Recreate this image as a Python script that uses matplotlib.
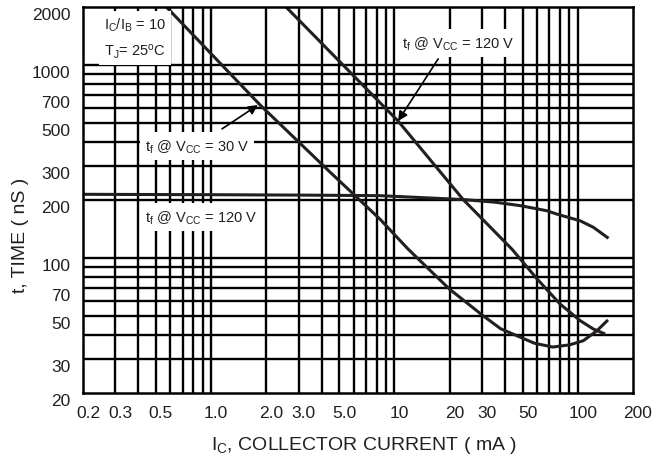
import matplotlib
matplotlib.use('Agg')
import matplotlib.pyplot as plt
import matplotlib.transforms as mtransforms
from matplotlib.ticker import FixedLocator, NullLocator

plt.rcParams['font.family'] = ['Liberation Sans', 'DejaVu Sans']
plt.rcParams['mathtext.fontset'] = 'custom'
plt.rcParams['mathtext.rm'] = 'Liberation Sans'
plt.rcParams['mathtext.it'] = 'Liberation Sans:italic'

INK = '#231f20'

# tick labels
x_ticks = [0.2, 0.3, 0.5, 1, 2, 3, 5, 10, 20, 30, 50, 100, 200]
x_tick_labels = ['0.2', '0.3', '0.5', '1.0', '2.0', '3.0', '5.0', '10', '20', '30', '50', '100', '200']
y_ticks = [20, 30, 50, 70, 100, 200, 300, 500, 700, 1000, 2000]
y_tick_labels = ['20', '30', '50', '70', '100', '200', '300', '500', '700', '1000', '2000']

# grid lines of the printed chart
x_grid = [0.3, 0.4, 0.5, 0.6, 0.7, 0.8, 0.9, 1, 2, 3, 4, 5, 6, 7, 8, 9,
          10, 20, 30, 40, 50, 60, 70, 80, 90, 100]
y_grid = [30, 40, 50, 60, 70, 80, 90, 100, 200, 300, 400, 500, 600, 700, 800, 900, 1000]

# tf @ VCC = 30 V
ic_30v = [0.57, 1.85, 4.45, 8.34, 11.9, 19.9, 30.4, 38, 46.5, 58, 73, 90, 107, 127, 146]
tf_30v = [2000, 621, 279, 159, 111, 69.2, 50.3, 43, 39.6, 36.2, 34.6, 35.5, 37.3, 42, 47.8]

# tf @ VCC = 120 V (steep curve)
ic_120v = [2.56, 10.46, 23.7, 43.8, 60, 80, 103, 121.5, 141]
tf_120v = [2000, 513, 201, 111, 77.9, 57.8, 47.4, 42.9, 40.4]

# tf @ VCC = 120 V (flat curve)
ic_120v_flat = [0.2, 1.0, 3.0, 8.34, 23.7, 35, 48.4, 67.6, 76.8, 103, 121.5, 147]
tf_120v_flat = [214, 213, 212, 210.6, 201, 195, 187, 176, 169, 156, 144.4, 126.6]


def draw_chart():
    fig = plt.figure(figsize=(6.52, 4.56), dpi=100)
    ax = fig.add_axes([0.1273, 0.136, 0.8436, 0.8465])
    ax.set_xscale('log')
    ax.set_yscale('log')
    ax.set_xlim(0.2, 200)
    ax.set_ylim(20, 2000)

    ax.xaxis.set_major_locator(FixedLocator(x_ticks))
    ax.xaxis.set_major_formatter(plt.FixedFormatter(x_tick_labels))
    ax.yaxis.set_major_locator(FixedLocator(y_ticks))
    ax.yaxis.set_major_formatter(plt.FixedFormatter(y_tick_labels))
    ax.xaxis.set_minor_locator(NullLocator())
    ax.yaxis.set_minor_locator(NullLocator())
    ax.tick_params(which='both', length=0, labelsize=12.5, colors=INK)
    ax.tick_params(axis='x', pad=9)
    ax.tick_params(axis='y', pad=9)

    # the printed grid, drawn under the curves
    ax.vlines(x_grid, 20, 2000, color='black', lw=1.7, zorder=1)
    ax.hlines(y_grid, 0.2, 200, color='black', lw=1.7, zorder=1)

    for s in ax.spines.values():
        s.set_linewidth(1.8)
        s.set_color('black')

    # nudge tick labels like the printed datasheet
    dx = mtransforms.ScaledTranslation(5 / 100, 0, fig.dpi_scale_trans)
    dy = mtransforms.ScaledTranslation(0, -6 / 100, fig.dpi_scale_trans)
    for lab in ax.get_xticklabels():
        lab.set_transform(lab.get_transform() + dx)
    for lab in ax.get_yticklabels():
        lab.set_transform(lab.get_transform() + dy)

    ax.plot(ic_30v, tf_30v, color=INK, lw=2.2, solid_capstyle='butt', zorder=2)
    ax.plot(ic_120v, tf_120v, color=INK, lw=2.2, solid_capstyle='butt', zorder=2)
    ax.plot(ic_120v_flat, tf_120v_flat, color=INK, lw=2.2, solid_capstyle='butt', zorder=2)

    box = dict(boxstyle='square,pad=0.35', facecolor='white', edgecolor='none')
    ax.text(0.384, 1382, 'I$_\\mathrm{C}$/I$_\\mathrm{B}$ = 10\nT$_\\mathrm{J}$= 25$^\\mathrm{o}$C',
            ha='center', va='center', fontsize=10.5, color=INK, linespacing=1.6,
            bbox=box, zorder=4)
    ax.text(0.838, 381, 't$_\\mathrm{f}$ @ V$_\\mathrm{CC}$ = 30 V', ha='center', va='center',
            fontsize=10.5, color=INK, bbox=box, zorder=4)
    ax.text(0.88, 163, 't$_\\mathrm{f}$ @ V$_\\mathrm{CC}$ = 120 V', ha='center', va='center',
            fontsize=10.5, color=INK, bbox=box, zorder=4)
    ax.text(22.2, 1302, 't$_\\mathrm{f}$ @ V$_\\mathrm{CC}$ = 120 V', ha='center', va='center',
            fontsize=10.5, color=INK, bbox=box, zorder=4)

    arrow = dict(arrowstyle='-|>', color='black', lw=1.2, mutation_scale=14, shrinkA=0, shrinkB=0)
    ax.annotate('', xy=(1.80, 621), xytext=(1.146, 467), arrowprops=arrow, zorder=5)
    ax.annotate('', xy=(10.46, 513), xytext=(17.3, 1076), arrowprops=arrow, zorder=5)

    ax.set_xlabel('I$_\\mathrm{C}$, COLLECTOR CURRENT ( mA )', fontsize=14, color=INK, va='center')
    ax.set_ylabel('t, TIME ( nS )', fontsize=14, color=INK, va='center')
    ax.xaxis.set_label_coords(0.51, -0.1345)
    ax.yaxis.set_label_coords(-0.1145, 0.41)

    fig.savefig('out.png', dpi=100)


if __name__ == '__main__':
    draw_chart()
